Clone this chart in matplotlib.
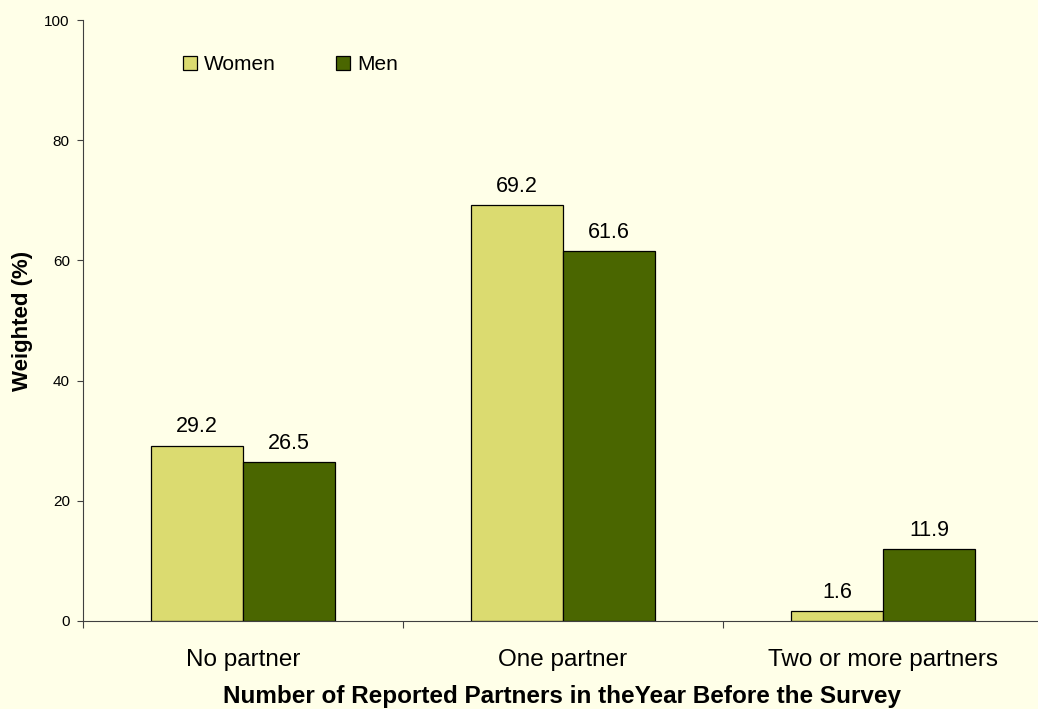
import matplotlib.pyplot as plt
import numpy as np

plt.rcParams['font.family'] = ['Liberation Sans', 'DejaVu Sans']

# data
categories = ["No partner", "One partner", "Two or more partners"]
women = [29.2, 69.2, 1.6]
men = [26.5, 61.6, 11.9]

bg = "#FFFFE8"
women_col = "#DBDB70"
men_col = "#4A6600"
axis_col = "#404040"

fig = plt.figure(figsize=(10.38, 7.09), dpi=100, facecolor=bg)
ax = fig.add_axes([83 / 1038, 1 - 621 / 709, 1 - 83 / 1038, (621 - 20) / 709])
ax.set_facecolor(bg)

x = np.arange(len(categories))
w = 0.2875
b1 = ax.bar(x - w / 2, women, w, color=women_col, edgecolor="black", linewidth=0.9, label="Women")
b2 = ax.bar(x + w / 2, men, w, color=men_col, edgecolor="black", linewidth=0.9, label="Men")

for bars in (b1, b2):
    for r in bars:
        ax.text(r.get_x() + r.get_width() / 2, r.get_height() + 2.2, "%.1f" % r.get_height(),
                ha="center", va="baseline", fontsize=15.5)

ax.set_xlim(-0.5, (1038 - 83) / 320 - 0.5)
ax.set_ylim(0, 100)
ax.set_yticks(np.arange(0, 101, 20))
ax.tick_params(axis="y", labelsize=11, length=4, width=0.8, pad=5.5, color=axis_col)

# ticks at category boundaries, labels at centres
ax.set_xticks([-0.5, 0.5, 1.5])
ax.set_xticklabels([])
ax.set_xticks(x, minor=True)
ax.set_xticklabels(categories, minor=True, fontsize=17.5)
ax.tick_params(axis="x", which="major", length=5, width=0.8, color=axis_col)
ax.tick_params(axis="x", which="minor", length=0, pad=20)

for s in ("top", "right"):
    ax.spines[s].set_visible(False)
for s in ("left", "bottom"):
    ax.spines[s].set_linewidth(0.8)
    ax.spines[s].set_color(axis_col)

ax.set_ylabel("Weighted (%)", fontsize=16, fontweight="bold", labelpad=8)
ax.set_xlabel("Number of Reported Partners in theYear Before the Survey", fontsize=17.5,
              fontweight="bold")
ax.xaxis.set_label_coords((562 - 83) / (1038 - 83), -(685 - 621) / 601)

ax.legend(loc="upper left", bbox_to_anchor=((183 - 83) / 955, (621 - 55) / 601), ncol=2,
          frameon=False, fontsize=15, handlelength=0.66, handleheight=0.66,
          handletextpad=0.35, columnspacing=2.9, borderpad=0, borderaxespad=0)

fig.savefig("out.png", dpi=100, facecolor=bg)
